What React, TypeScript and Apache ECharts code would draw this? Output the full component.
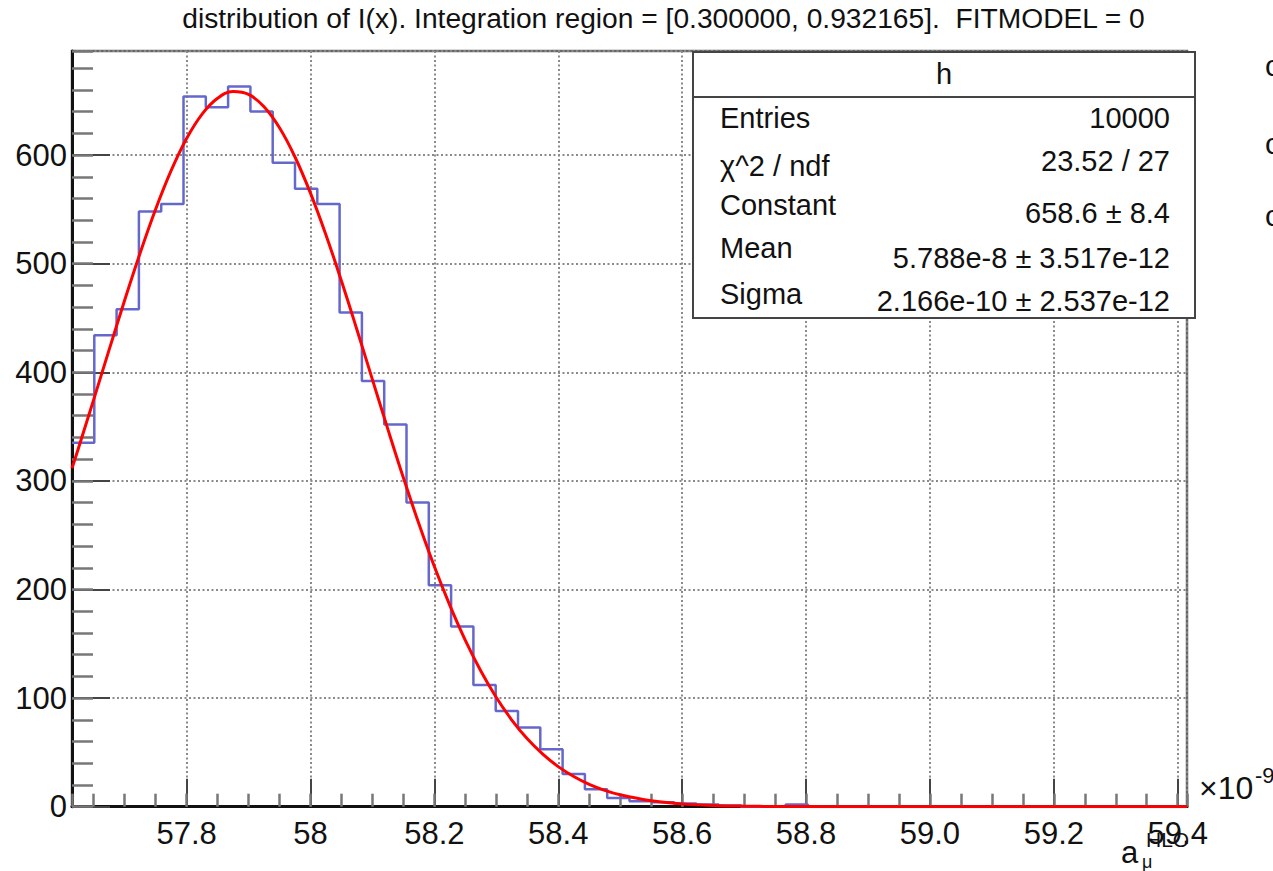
import React, { useEffect, useRef } from "react";
import * as echarts from "echarts";

const FONT = '"Liberation Sans", Arial, Helvetica, sans-serif';

const titleText = "distribution of I(x). Integration region = [0.300000, 0.932165].  FITMODEL = 0";

// Histogram binning (x in units of 1e-9)
const xMin = 57.615;
const xMax = 59.415;
const nBins = 50;
const yMin = 0;
const yMax = 695.8;

// Bin contents
const binCounts = [
  335, 434, 458, 548, 555, 654, 644, 663, 640, 593,
  569, 555, 455, 392, 352, 280, 204, 166, 112, 88,
  73, 53, 30, 16, 8, 5, 4, 3, 2, 1,
  0, 0, 2, 0, 0, 0, 0, 0, 0, 0,
  0, 0, 0, 0, 0, 0, 0, 0, 0, 0,
];

// Fitted gaussian curve
const fitX = [
  57.615, 57.625, 57.65, 57.675, 57.7, 57.725, 57.75, 57.775, 57.8, 57.825,
  57.85, 57.875, 57.9, 57.925, 57.95, 57.975, 58.0, 58.025, 58.05, 58.075,
  58.1, 58.125, 58.15, 58.175, 58.2, 58.225, 58.25, 58.275, 58.3, 58.325,
  58.35, 58.375, 58.4, 58.425, 58.45, 58.475, 58.5, 58.55, 58.6, 58.65,
  58.7, 58.75, 58.8, 58.85, 58.9, 59.0, 59.2, 59.415,
];
const fitY = [
  311.6, 329.4, 374.8, 420.8, 466.3, 509.8, 550.1, 585.6, 615.2, 637.7,
  652.3, 658.4, 655.8, 644.5, 625.1, 598.2, 564.9, 526.4, 484.0, 439.2,
  393.2, 347.4, 302.8, 260.5, 221.1, 185.3, 153.1, 124.9, 100.5, 79.8,
  62.5, 48.4, 36.9, 27.8, 20.6, 15.1, 11.0, 5.5, 2.6, 1.2,
  0.5, 0.2, 0.1, 0, 0, 0, 0, 0,
];

const xTickValues = [57.8, 58.0, 58.2, 58.4, 58.6, 58.8, 59.0, 59.2, 59.4];
const xTickLabels = ["57.8", "58", "58.2", "58.4", "58.6", "58.8", "59.0", "59.2", "59.4"];

const statsTitle = "h";
const statsLabels = ["Entries", "χ^2 / ndf", "Constant", "Mean", "Sigma"];
const statsValues = ["10000", "23.52 / 27", "658.6 ± 8.4", "5.788e-8 ± 3.517e-12", "2.166e-10 ± 2.537e-12"];

const gridStyle = { color: "#8a8a8a", width: 2, type: [2, 2.5] as number[] };

function txt(x: number, y: number, text: string, size: number, align = "left", vAlign = "middle", extra: any = {}) {
  return {
    type: "text",
    x,
    y,
    z: 100,
    style: {
      text,
      fontSize: size,
      fontFamily: FONT,
      fill: "#111",
      align,
      textAlign: align,
      verticalAlign: vAlign,
      textVerticalAlign: vAlign,
      ...extra,
    },
  };
}

export default function App() {
  const ref = useRef<HTMLDivElement>(null);

  useEffect(() => {
    if (!ref.current) return;
    const chart = echarts.init(ref.current, undefined, { renderer: "svg" });

    const binWidth = (xMax - xMin) / nBins;
    const histData: number[][] = binCounts.map((c, i) => [xMin + i * binWidth, c]);
    histData.push([xMax, binCounts[binCounts.length - 1]]);
    const fitData = fitX.map((x, i) => [x, fitY[i]]);

    const statsRowsLeftY = [118, 166, 205, 248, 294];
    const statsRowsRightY = [118, 161, 213, 258, 301];

    const graphics: any[] = [
      txt(663.5, 18, titleText, 28.2, "center"),
      // stats box
      {
        type: "rect",
        z: 99,
        shape: { x: 693, y: 52, width: 502, height: 266 },
        style: { fill: "#fff", stroke: "#444", lineWidth: 2 },
      },
      {
        type: "line",
        z: 99,
        shape: { x1: 693, y1: 97, x2: 1195, y2: 97 },
        style: { stroke: "#444", lineWidth: 2 },
      },
      txt(944, 74, statsTitle, 29, "center"),
      ...statsLabels.map((l, i) => txt(720, statsRowsLeftY[i], l, 29, "left")),
      ...statsValues.map((v, i) => txt(1170, statsRowsRightY[i], v, 29, "right")),
      // exponent label
      txt(1199, 788, "×10", 32, "left"),
      txt(1255, 775, "-9", 22, "left"),
      // axis title a_mu^HLO
      txt(1121, 852, "a", 31, "left"),
      txt(1142, 862, "μ", 18, "left"),
      txt(1146, 839, "HLO", 21, "left"),
      // clipped glyphs at right edge
      txt(1265, 65, "c", 30, "left"),
      txt(1265, 143, "c", 30, "left"),
      txt(1265, 215, "c", 30, "left"),
    ];

    const option: any = {
      animation: false,
      backgroundColor: "#fff",
      grid: {
        left: 72,
        right: 86,
        top: 51,
        bottom: 64.3,
        show: true,
        borderColor: "#666",
        borderWidth: 2.5,
        backgroundColor: "transparent",
      },
      xAxis: [
        {
          type: "value",
          min: xMin,
          max: xMax,
          splitNumber: 9,
          position: "bottom",
          axisLine: { show: true, onZero: false, lineStyle: { color: "#111", width: 3 } },
          axisTick: { show: true, inside: true, length: 28, lineStyle: { color: "#444", width: 2 } },
          axisLabel: {
            showMinLabel: false,
            showMaxLabel: false,
            fontSize: 31,
            fontFamily: FONT,
            color: "#111",
            margin: 11,
            formatter: (v: number) => {
              const idx = xTickValues.findIndex((t) => Math.abs(t - v) < 1e-6);
              return idx >= 0 ? xTickLabels[idx] : "";
            },
          },
          splitLine: { show: true, lineStyle: gridStyle },
        },
        {
          type: "value",
          min: xMin,
          max: xMax,
          splitNumber: 36,
          position: "bottom",
          axisLine: { show: false, onZero: false },
          axisTick: { show: true, inside: true, length: 13, lineStyle: { color: "#777", width: 2.5 } },
          axisLabel: { show: false },
          splitLine: { show: false },
        },
      ],
      yAxis: [
        {
          type: "value",
          min: yMin,
          max: yMax,
          interval: 100,
          position: "left",
          axisLine: { show: true, onZero: false, lineStyle: { color: "#111", width: 3 } },
          axisTick: { show: true, inside: true, length: 38, lineStyle: { color: "#444", width: 2 } },
          axisLabel: {
            showMaxLabel: false,
            fontSize: 31,
            fontFamily: FONT,
            color: "#111",
            margin: 5,
          },
          splitLine: { show: true, lineStyle: gridStyle },
        },
        {
          type: "value",
          min: yMin,
          max: yMax,
          interval: 20,
          position: "left",
          axisLine: { show: false, onZero: false },
          axisTick: { show: true, inside: true, length: 21, lineStyle: { color: "#777", width: 2.5 } },
          axisLabel: { show: false },
          splitLine: { show: false },
        },
      ],
      series: [
        {
          type: "line",
          name: "h",
          xAxisIndex: 0,
          yAxisIndex: 0,
          data: histData,
          step: "end",
          symbol: "none",
          showSymbol: false,
          lineStyle: { color: "#6468cc", width: 2.5 },
          z: 3,
        },
        {
          type: "line",
          name: "fit",
          xAxisIndex: 0,
          yAxisIndex: 0,
          data: fitData,
          smooth: 0.4,
          symbol: "none",
          showSymbol: false,
          lineStyle: { color: "#ff0000", width: 3 },
          z: 4,
        },
      ],
      graphic: graphics,
    };

    chart.setOption(option);
    return () => chart.dispose();
  }, []);

  return (
    <div
      ref={ref}
      style={{ position: "absolute", left: 0, top: 0, width: 1273, height: 871 }}
    />
  );
}
